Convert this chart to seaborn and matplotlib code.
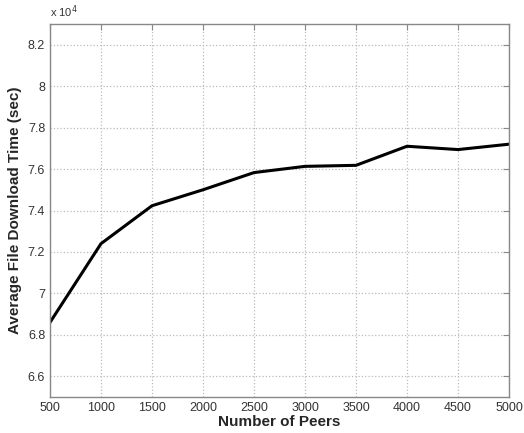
import matplotlib
matplotlib.use("Agg")
import matplotlib.pyplot as plt
import seaborn as sns
import pandas as pd

# number of peers vs average download time (units of 10^4 sec)
peers = [500, 1000, 1500, 2000, 2500, 3000, 3500, 4000, 4500, 5000]
avg_time = [6.86, 7.24, 7.423, 7.50, 7.583, 7.613, 7.618, 7.71, 7.694, 7.72]
x_ticks = [500, 1000, 1500, 2000, 2500, 3000, 3500, 4000, 4500, 5000]
y_ticks = [6.6, 6.8, 7.0, 7.2, 7.4, 7.6, 7.8, 8.0, 8.2]
y_labels = ["6.6", "6.8", "7", "7.2", "7.4", "7.6", "7.8", "8", "8.2"]

df = pd.DataFrame({"peers": peers, "time": avg_time})

sns.set_style("white")
plt.rcParams["font.family"] = ["Liberation Sans", "DejaVu Sans"]

fig = plt.figure(figsize=(5.24, 4.33), dpi=100)
ax = fig.add_axes([0.0954, 0.0831, 0.876, 0.8615])

sns.lineplot(data=df, x="peers", y="time", color="black", linewidth=2.2, ax=ax)

ax.set_xlim(500, 5000)
ax.set_ylim(6.5, 8.3)
ax.set_xticks(x_ticks)
ax.set_yticks(y_ticks)
ax.set_yticklabels(y_labels)
ax.grid(True, color="#bbbbbb", linestyle=":", linewidth=0.9)
ax.tick_params(direction="in", top=True, right=True, length=4,
               colors="#888888", labelcolor="#333333", labelsize=9)
for s in ax.spines.values():
    s.set_color("#888888")
    s.set_linewidth(1.0)

ax.set_xlabel("Number of Peers", fontsize=11, fontweight="bold", labelpad=1)
ax.set_ylabel("Average File Download Time (sec)", fontsize=11, fontweight="bold", labelpad=4)
ax.text(0.0, 1.012, "x 10$^4$", transform=ax.transAxes, fontsize=8, color="#333333",
        ha="left", va="bottom")

fig.savefig("out.png", dpi=100)
